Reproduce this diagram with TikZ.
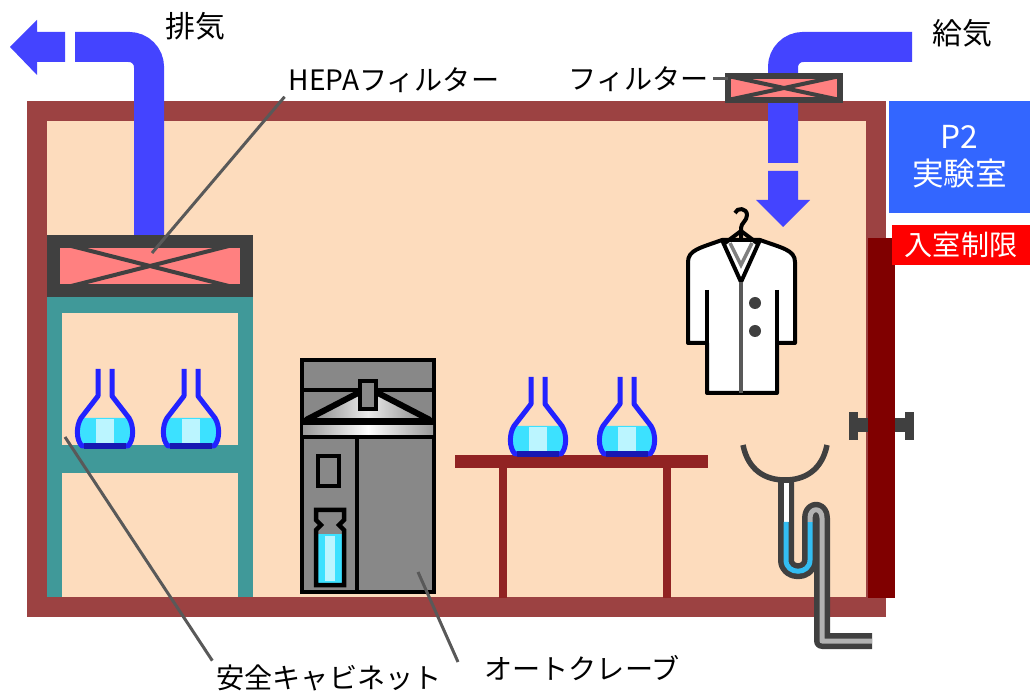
\documentclass[tikz,border=0pt]{standalone}
\usepackage{fontspec}
\setmainfont{Noto Sans CJK JP}

\definecolor{wallred}{RGB}{156,66,66}
\definecolor{roomfill}{RGB}{253,220,189}
\definecolor{doorred}{RGB}{128,0,0}
\definecolor{airblue}{RGB}{68,68,255}
\definecolor{signblue}{RGB}{51,102,255}
\definecolor{cabteal}{RGB}{64,153,153}
\definecolor{tablered}{RGB}{145,35,35}
\definecolor{filterpink}{RGB}{255,128,128}
\definecolor{framegray}{RGB}{64,64,64}
\definecolor{liquid}{RGB}{60,225,255}
\definecolor{glassblue}{RGB}{34,34,255}
\definecolor{steelgray}{RGB}{136,136,136}

\tikzset{
  lbl/.style={inner sep=1pt, font=\fontsize{8}{9.6}\selectfont},
  leader/.style={draw=gray!70!black, line width=0.3mm},
  pipe/.style={draw=airblue, line width=3mm, rounded corners=2mm},
  filterbox/.style={draw=framegray, fill=filterpink, inner sep=0pt, outer sep=0pt},
  filterx/.style={draw=framegray, line width=0.4mm},
  sign/.style={text=white, align=center, inner sep=0pt},
  glass/.style={draw=glassblue, line width=0.5mm, line join=round},
  coatline/.style={draw=black, line width=0.4mm, line join=round},
  flask/.pic={
    \fill[liquid] (-24,-28) .. controls (-29,-20) and (-29,-6) .. (-23,0) -- (23,0) .. controls (29,-6) and (29,-20) .. (24,-28) -- cycle;
    \fill[liquid!35!white] (-9,-27) rectangle (9,-2);
    \draw[glass] (-7,-77) -- (-7,-50) -- (-24,-28) .. controls (-29,-20) and (-29,-6) .. (-23,0) -- (23,0) .. controls (29,-6) and (29,-20) .. (24,-28) -- (7,-50) -- (7,-77);
    \draw[glassblue!70!black, line width=0.6mm] (-21,0) -- (21,0);
  }
}

\begin{document}
\begin{tikzpicture}[x=0.1mm,y=-0.1mm,line join=miter]
\useasboundingbox (0,0) rectangle (1030,693);

% room
\fill[roomfill] (37,111) rectangle (876,607);
\draw[wallred, line width=2mm] (37,111) rectangle (876,607);
\fill[doorred] (868,238) rectangle (895,598);

% door knob
\fill[framegray] (849,412) rectangle (858,440);
\fill[framegray] (858,418) rectangle (868,432);
\fill[framegray] (895,418) rectangle (905,432);
\fill[framegray] (905,412) rectangle (914,440);

% exhaust and supply air
\draw[pipe] (149,236) |- (75,47);
\fill[airblue] (65,32) -- (37,32) -- (37,20) -- (10,47) -- (37,75) -- (37,62) -- (65,62) -- cycle;
\draw[pipe] (912,47) -| (783,163);
\fill[airblue] (768,171) -- (798,171) -- (798,200) -- (810,200) -- (783,227) -- (756,200) -- (768,200) -- cycle;

% filters
\node (hepa) at (150,266) [filterbox, line width=1.3mm, minimum width=19.3mm, minimum height=4.9mm] {};
\draw[filterx] (hepa.north west) -- (hepa.south east) (hepa.south west) -- (hepa.north east);
\node (filter_in) at (784,88) [filterbox, line width=0.6mm, minimum width=11.2mm, minimum height=2.4mm] {};
\draw[filterx] (filter_in.north west) -- (filter_in.south east) (filter_in.south west) -- (filter_in.north east);

% safety cabinet
\fill[cabteal] (47,297) rectangle (253,597);
\fill[roomfill] (62,313) rectangle (238,445);
\fill[roomfill] (62,473) rectangle (238,597);
\pic at (105,446) {flask};
\pic at (191,446) {flask};

% bench
\fill[tablered] (455,455) rectangle (708,468);
\fill[tablered] (499,468) rectangle (507,598);
\fill[tablered] (663,468) rectangle (671,598);
\pic at (538,454) {flask};
\pic at (627,454) {flask};

% autoclave
\draw[black, line width=0.45mm, fill=steelgray] (302,360) rectangle (434,592);
\shade[left color=gray, right color=gray, middle color=white!85!gray] (306,420) -- (360,392) -- (376,392) -- (430,420) -- cycle;
\draw[black, line width=0.45mm] (302,390) -- (434,390);
\draw[black, line width=0.6mm] (306,420) -- (360,392) (376,392) -- (430,420);
\draw[black, line width=0.45mm, fill=steelgray] (360,381) rectangle (376,409);
\fill[black] (302,418) rectangle (434,426);
\shade[left color=gray!80, right color=gray!80, middle color=white] (303,426) rectangle (433,436);
\draw[black, line width=0.45mm] (302,437) -- (434,437);
\draw[black, line width=0.45mm] (357,437) -- (357,592);
\draw[black, line width=0.45mm, fill=steelgray] (318,456) rectangle (339,486);
\fill[liquid] (317,534) rectangle (343,583);
\fill[liquid!35!white] (325,536) rectangle (335,581);
\draw[black, line width=0.45mm] (316,510) -- (344,510) -- (344,520) -- (339,525) -- (344,530) -- (344,585) -- (316,585) -- (316,530) -- (321,525) -- (316,520) -- cycle;

% lab coat
\draw[coatline] (741,240) -- (741,228) .. controls (741,223) and (747,221) .. (747,215) .. controls (747,208) and (737,207) .. (735,213);
\draw[coatline, fill=white] (688,343) -- (688,262) .. controls (688,250) and (700,248) .. (722,240) -- (760,240) .. controls (782,248) and (795,250) .. (795,262) -- (795,343) -- (777,343) -- (777,393) -- (707,393) -- (707,343) -- cycle;
\draw[coatline] (722,240) -- (741,282) -- (760,240);
\draw[gray, line width=0.35mm] (730,243) -- (741,265) -- (752,243);
\draw[coatline] (725,243) -- (741,231) -- (757,243);
\draw[gray!70!black, line width=0.4mm] (741,282) -- (741,393);
\draw[coatline] (707,290) -- (707,343) (777,290) -- (777,343);
\fill[framegray] (755,303) circle (0.6mm);
\fill[framegray] (755,331) circle (0.6mm);

% sink and trap
\draw[framegray, line width=0.55mm] (743,445) .. controls (748,470) and (765,480) .. (785,480) .. controls (805,480) and (822,470) .. (827,445);
\draw[framegray, line width=1.6mm, line join=round] (786,482) -- (786,560) .. controls (786,575) and (810,575) .. (810,560) -- (810,518) .. controls (810,507) and (822,507) .. (822,518) -- (822,641) -- (872,641);
\draw[white, line width=0.5mm] (786,483) -- (786,522);
\draw[cyan!80!white, line width=0.5mm] (786,522) -- (786,560) .. controls (786,575) and (810,575) .. (810,560) -- (810,522);
\draw[gray!60, line width=0.5mm, line join=round] (810,522) -- (810,518) .. controls (810,507) and (822,507) .. (822,518) -- (822,641) -- (872,641);

% signs
\node (p2_sign) at (959.5,157) [sign, fill=signblue, minimum width=14.1mm, minimum height=11.2mm, font=\fontsize{9}{10.5}\selectfont] {P2\\実験室};
\node (entry_sign) at (961,245) [sign, fill=red, minimum width=13.8mm, minimum height=4mm, font=\fontsize{8}{9.6}\selectfont] {入室制限};

% labels
\node (lbl_exhaust) at (195,26) [lbl, font=\fontsize{8.5}{10}\selectfont] {排気};
\node (lbl_supply) at (962,33) [lbl, font=\fontsize{8.5}{10}\selectfont] {給気};
\node (lbl_hepa) at (394,80) [lbl] {HEPAフィルター};
\node (lbl_filter) at (639,79) [lbl] {フィルター};
\node (lbl_cabinet) at (329,678) [lbl] {安全キャビネット};
\node (lbl_autoclave) at (582,668) [lbl] {オートクレーブ};

\coordinate (hepa_tip) at (152,253);
\coordinate (cabinet_tip) at (65,437);
\coordinate (autoclave_tip) at (418,572);
\coordinate (autoclave_end) at (458,662);

\draw[leader] (lbl_hepa.south west) -- (hepa_tip);
\draw[leader] (lbl_filter.east) -- (lbl_filter.east -| filter_in.west);
\draw[leader] (cabinet_tip) -- (lbl_cabinet.north west);
\draw[leader] (autoclave_tip) -- (autoclave_end);

\end{tikzpicture}
\end{document}
